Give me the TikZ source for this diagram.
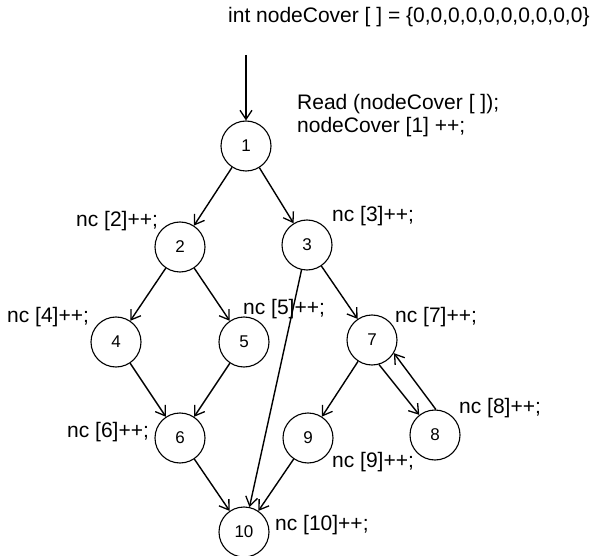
\documentclass[tikz,border=0pt]{standalone}
\usepackage{fontspec}
\setmainfont{Liberation Sans}
\usetikzlibrary{arrows.meta}
\begin{document}
\begin{tikzpicture}[x=1pt,y=-1pt,
  vtx/.style={circle,draw,line width=1.1pt,minimum size=50pt,inner sep=0pt,font=\fontsize{17}{20}\selectfont},
  lbl/.style={anchor=base west,inner sep=0pt,font=\fontsize{21}{24}\selectfont},
  edge/.style={line width=1.4pt,-{Straight Barb[length=9pt,width=12pt,line width=1.3pt]}}]
\useasboundingbox (0,0) rectangle (592,556);
\node[vtx] (n1) at (246,146) {1};
\node[vtx] (n2) at (180,247) {2};
\node[vtx] (n3) at (307,245) {3};
\node[vtx] (n4) at (116,342) {4};
\node[vtx] (n5) at (244,342) {5};
\node[vtx] (n7) at (372,340) {7};
\node[vtx] (n6) at (180,438) {6};
\node[vtx] (n9) at (308,438) {9};
\node[vtx] (n8) at (435,435) {8};
\node[vtx] (n10) at (244,532) {10};
\coordinate (start) at (246,55);

\node[lbl] (hdr) at (228,23) {int nodeCover [ ] = \{0,0,0,0,0,0,0,0,0,0\}};
\node[lbl] (rd) at (297,110) {Read (nodeCover [ ]);};
\node[lbl] (rd2) at (297,133) {nodeCover [1] ++;};
\node[lbl] (l2) at (76,227) {nc [2]++;};
\node[lbl] (l3) at (332,222) {nc [3]++;};
\node[lbl] (l4) at (7,323) {nc [4]++;};
\node[lbl] (l5) at (243,315) {nc [5]++;};
\node[lbl] (l7) at (395,323) {nc [7]++;};
\node[lbl] (l6) at (67,437) {nc [6]++;};
\node[lbl] (l8) at (459,413) {nc [8]++;};
\node[lbl] (l9) at (332,467) {nc [9]++;};
\node[lbl] (l10) at (275,530) {nc [10]++;};

\draw[edge,line width=1.1pt] (start) -- (n1);
\draw[edge] (n1) -- (n2);
\draw[edge] (n1) -- (n3);
\draw[edge] (n2) -- (n4);
\draw[edge] (n2) -- (n5);
\draw[edge] (n3) -- (n7);
\draw[edge] (n3) -- (n10);
\draw[edge] (n4) -- (n6);
\draw[edge] (n5) -- (n6);
\draw[edge] (n7) -- (n9);
\draw[edge] (n7.-74) -- (n8.128);
\draw[edge] (n8.88) -- (n7.-31);
\draw[edge] (n6) -- (n10);
\draw[edge] (n9) -- (n10);
\end{tikzpicture}
\end{document}
